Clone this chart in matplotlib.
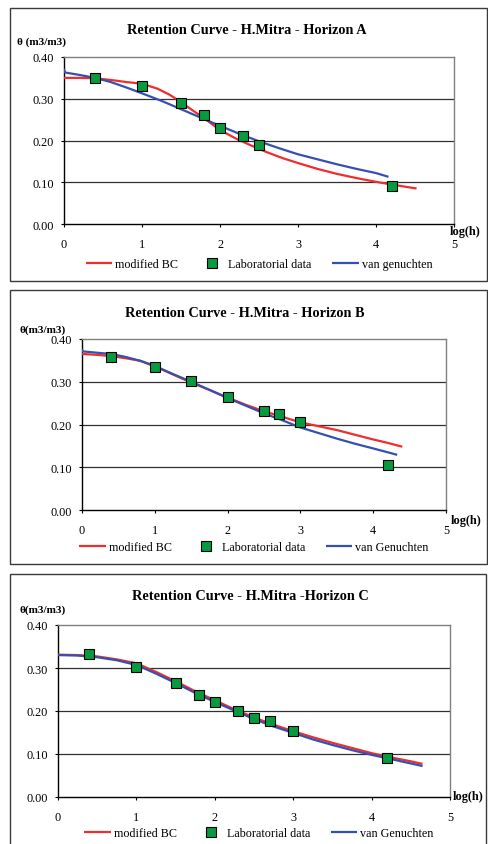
import matplotlib
matplotlib.use("Agg")
import matplotlib.pyplot as plt
from matplotlib.patches import Rectangle

plt.rcParams['font.family'] = ['Liberation Serif', 'DejaVu Serif']

# ---------------- data ----------------
titles = ["Retention Curve - H.Mitra - Horizon A",
          "Retention Curve - H.Mitra - Horizon B",
          "Retention Curve - H.Mitra -Horizon C"]
ylabels = ["θ (m3/m3)", "θ(m3/m3)", "θ(m3/m3)"]
vg_names = ["van genuchten", "van Genuchten", "van Genuchten"]

labA_x = [0.4, 1.0, 1.5, 1.8, 2.0, 2.3, 2.5, 4.2]
labA_y = [0.35, 0.33, 0.29, 0.26, 0.23, 0.21, 0.19, 0.09]
bcA_x = [0, 0.2, 0.4, 0.6, 0.8, 1.0, 1.2, 1.35, 1.5, 1.65, 1.8, 2.0, 2.2, 2.4,
         2.6, 2.8, 3.0, 3.25, 3.5, 3.75, 4.0, 4.25, 4.52]
bcA_y = [0.350, 0.350, 0.349, 0.345, 0.340, 0.336, 0.324, 0.310, 0.292, 0.272,
         0.253, 0.225, 0.205, 0.188, 0.172, 0.158, 0.146, 0.132, 0.120, 0.110,
         0.101, 0.093, 0.085]
vgA_x = [0, 0.01, 0.2, 0.4, 0.6, 0.8, 1.0, 1.25, 1.5, 1.75, 2.0, 2.25, 2.5,
         2.75, 3.0, 3.25, 3.5, 3.75, 4.0, 4.16]
vgA_y = [0.372, 0.363, 0.357, 0.350, 0.340, 0.327, 0.313, 0.295, 0.275, 0.255,
         0.235, 0.216, 0.198, 0.182, 0.167, 0.155, 0.143, 0.132, 0.122, 0.113]

labB_x = [0.4, 1.0, 1.5, 2.0, 2.5, 2.7, 3.0, 4.2]
labB_y = [0.359, 0.334, 0.302, 0.264, 0.231, 0.225, 0.207, 0.105]
bcB_x = [0, 0.2, 0.4, 0.6, 0.8, 1.0, 1.25, 1.5, 1.75, 2.0, 2.25, 2.5, 2.75,
         3.0, 3.25, 3.5, 3.75, 4.0, 4.2, 4.4]
bcB_y = [0.365, 0.363, 0.360, 0.355, 0.349, 0.336, 0.317, 0.298, 0.281, 0.263,
         0.246, 0.231, 0.218, 0.205, 0.196, 0.187, 0.176, 0.165, 0.157, 0.148]
vgB_x = [0, 0.01, 0.2, 0.4, 0.6, 0.8, 1.0, 1.25, 1.5, 1.75, 2.0, 2.25, 2.5,
         2.75, 3.0, 3.25, 3.5, 3.75, 4.0, 4.2, 4.33]
vgB_y = [0.376, 0.371, 0.368, 0.365, 0.358, 0.349, 0.337, 0.318, 0.300, 0.281,
         0.262, 0.244, 0.226, 0.210, 0.193, 0.180, 0.167, 0.155, 0.144, 0.135,
         0.129]

labC_x = [0.4, 1.0, 1.5, 1.8, 2.0, 2.3, 2.5, 2.7, 3.0, 4.2]
labC_y = [0.333, 0.302, 0.266, 0.238, 0.222, 0.201, 0.183, 0.176, 0.154, 0.090]
bcC_x = [0, 0.25, 0.5, 0.75, 1.0, 1.25, 1.5, 1.75, 2.0, 2.25, 2.5, 2.75, 3.0,
         3.25, 3.5, 3.75, 4.0, 4.25, 4.5, 4.65]
bcC_y = [0.331, 0.330, 0.327, 0.320, 0.311, 0.291, 0.269, 0.246, 0.225, 0.204,
         0.185, 0.168, 0.153, 0.139, 0.126, 0.114, 0.102, 0.092, 0.083, 0.077]
vgC_x = bcC_x
vgC_y = [0.330, 0.329, 0.325, 0.318, 0.307, 0.287, 0.265, 0.242, 0.221, 0.201,
         0.181, 0.164, 0.149, 0.134, 0.121, 0.109, 0.098, 0.088, 0.078, 0.072]

x_ticks = [0, 1, 2, 3, 4, 5]
y_ticks = [0.0, 0.1, 0.2, 0.3, 0.4]

# ---------------- layout (pixels) ----------------
W, H = 488, 845
fig = plt.figure(figsize=(W / 100, H / 100), dpi=100)

def fx(px):
    return px / W

def fy(py):
    return 1 - py / H

RED = '#f02d2d'
BLUE = '#3550b0'
GREEN = '#079a3e'

panels = [
    dict(box=(10, 9, 487, 282), ax=(64, 58, 454, 225), title_y=31, title_x=247,
         ylab=(17, 42), logh=(465, 232), leg_y=265, leg_cx=259,
         lab=(labA_x, labA_y), bc=(bcA_x, bcA_y), vg=(vgA_x, vgA_y)),
    dict(box=(10, 291, 487, 565), ax=(82, 340, 446, 511), title_y=314, title_x=245,
         ylab=(20, 330), logh=(466, 521), leg_y=548, leg_cx=254,
         lab=(labB_x, labB_y), bc=(bcB_x, bcB_y), vg=(vgB_x, vgB_y)),
    dict(box=(10, 575, 486, 850), ax=(58, 626, 450, 798), title_y=597, title_x=250,
         ylab=(20, 610), logh=(468, 797), leg_y=834, leg_cx=259,
         lab=(labC_x, labC_y), bc=(bcC_x, bcC_y), vg=(vgC_x, vgC_y)),
]

for i, p in enumerate(panels):
    bx0, by0, bx1, by1 = p['box']
    fig.patches.append(Rectangle((fx(bx0), fy(by1)), fx(bx1 - bx0), (by1 - by0) / H,
                                 transform=fig.transFigure, fill=False,
                                 edgecolor='#3a3a3a', linewidth=1.0, zorder=0))
    x0, y0, x1, y1 = p['ax']
    ax = fig.add_axes([fx(x0), fy(y1), fx(x1 - x0), (y1 - y0) / H])
    ax.set_xlim(0, 5)
    ax.set_ylim(0, 0.4)
    ax.set_xticks(x_ticks)
    ax.set_yticks(y_ticks)
    ax.set_xticklabels([str(t) for t in x_ticks])
    ax.set_yticklabels(['%.2f' % t for t in y_ticks])
    ax.tick_params(axis='both', direction='out', length=2.5, width=0.8,
                   labelsize=8.8, colors='black')
    ax.tick_params(axis='y', pad=5.0)
    ax.tick_params(axis='x', pad=7.5)
    for s in ['left', 'bottom']:
        ax.spines[s].set_color('black')
        ax.spines[s].set_linewidth(1.0)
    for s in ['top', 'right']:
        ax.spines[s].set_color('#808080')
        ax.spines[s].set_linewidth(1.0)
    for yv in y_ticks[1:-1]:
        ax.axhline(yv, color='#303030', linewidth=0.9, zorder=1)

    bx, byv = p['bc']
    vx, vyv = p['vg']
    lx, lyv = p['lab']
    l1, = ax.plot(bx, byv, color=RED, linewidth=1.6, zorder=3,
                  solid_capstyle='butt', label='modified BC')
    l3, = ax.plot(vx, vyv, color=BLUE, linewidth=1.6, zorder=3,
                  solid_capstyle='butt', label=vg_names[i])
    l2, = ax.plot(lx, lyv, linestyle='none', marker='s', markersize=7,
                  markerfacecolor=GREEN, markeredgecolor='black',
                  markeredgewidth=0.8, zorder=4, label='Laboratorial data')

    fig.text(fx(p['title_x']), fy(p['title_y']), titles[i], ha='center',
             va='center', fontsize=10.3, fontweight='bold')
    fig.text(fx(p['ylab'][0]), fy(p['ylab'][1]), ylabels[i], ha='left',
             va='center', fontsize=8, fontweight='bold')
    fig.text(fx(p['logh'][0]), fy(p['logh'][1]), 'log(h)', ha='center',
             va='center', fontsize=8.8, fontweight='bold')

    fig.legend([l1, l2, l3], ['modified BC', 'Laboratorial data', vg_names[i]],
               loc='center', bbox_to_anchor=(fx(p['leg_cx']), fy(p['leg_y'])),
               bbox_transform=fig.transFigure, ncol=3, frameon=False,
               fontsize=8.7, handlelength=2.2, handletextpad=0.25,
               columnspacing=1.7, borderpad=0, borderaxespad=0)

fig.savefig('out.png', dpi=100)
